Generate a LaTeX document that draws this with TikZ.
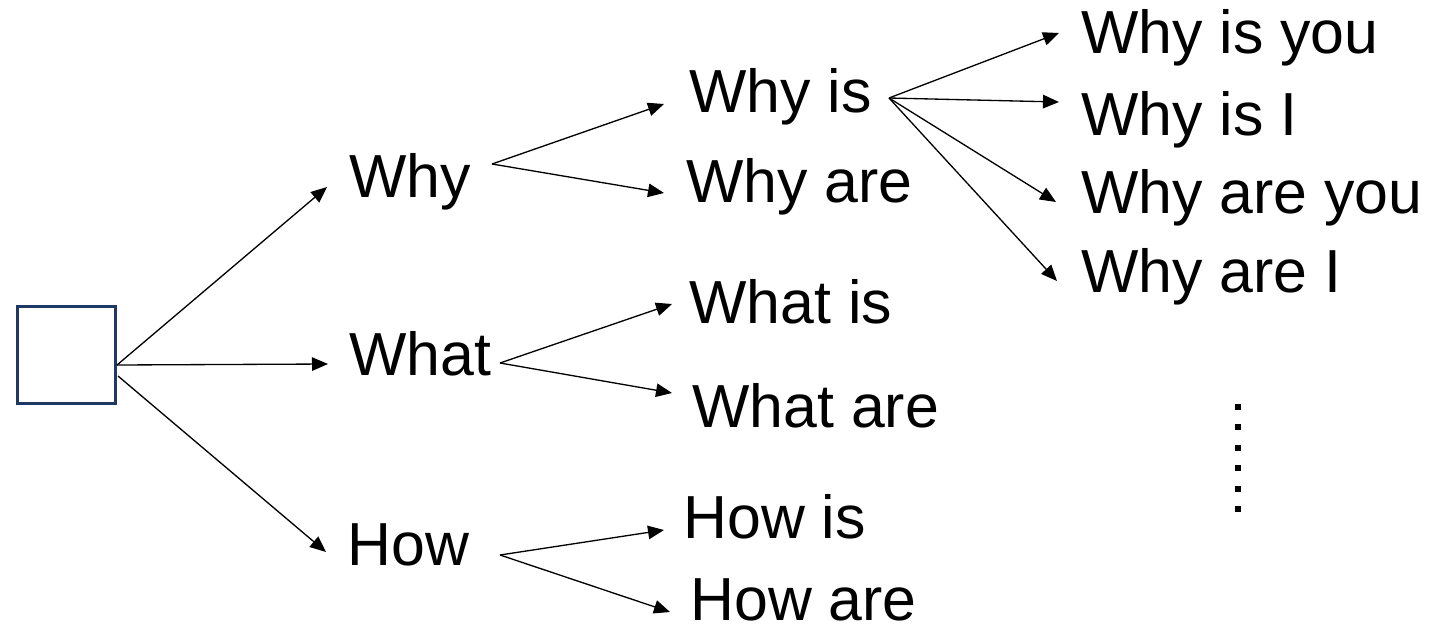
\documentclass[tikz,border=0pt]{standalone}
\usepackage{fontspec}
\setmainfont{Liberation Sans}
\usetikzlibrary{arrows.meta}
\definecolor{boxblue}{RGB}{32,56,100}

\begin{document}
\begin{tikzpicture}[x=0.02cm,y=-0.02cm,
		word/.style={anchor=base west,inner sep=0pt,font=\fontsize{34.6}{40}\selectfont},
		link/.style={line width=0.75pt,-{Triangle[length=0.32cm,width=0.27cm]}}]
	\useasboundingbox (0,0) rectangle (1430,629);

	% empty start box
	\node[draw=boxblue,line width=1.5pt,inner sep=0pt,minimum width=1.97cm,minimum height=1.95cm] (start) at (66.5,355) {};

	% first words
	\node[word] (why) at (349,197) {Why};
	\node[word] (what) at (349,375) {What};
	\node[word] (how) at (347,565) {How};

	% second words
	\node[word] (whyis) at (689,112) {Why is};
	\node[word] (whyare) at (686,202) {Why are};
	\node[word] (whatis) at (689,323) {What is};
	\node[word] (whatare) at (692,427) {What are};
	\node[word] (howis) at (683,538) {How is};
	\node[word] (howare) at (690,620) {How are};

	% third words
	\node[word] (whyisyou) at (1081,53) {Why is you};
	\node[word] (whyisi) at (1081,135) {Why is I};
	\node[word] (whyareyou) at (1081,213) {Why are you};
	\node[word] (whyarei) at (1081,292) {Why are I};

	% where the arrows leave and arrive
	\coordinate (start-out) at (117,365);
	\coordinate (start-low) at (118,376);
	\coordinate (why-out) at (492,164);
	\coordinate (what-out) at (500,363);
	\coordinate (how-out) at (500,555);
	\coordinate (whyis-out) at (889,98);
	\coordinate (why-in) at (327,187);
	\coordinate (what-in) at (328,364);
	\coordinate (how-in) at (326,552);
	\coordinate (whyis-in) at (664,104);
	\coordinate (whyare-in) at (664,193);
	\coordinate (whatis-in) at (672,304);
	\coordinate (whatare-in) at (672,393);
	\coordinate (howis-in) at (664,530);
	\coordinate (howare-in) at (670,612);
	\coordinate (whyisyou-in) at (1059,33);
	\coordinate (whyisi-in) at (1059,102);
	\coordinate (whyareyou-in) at (1056,202);
	\coordinate (whyarei-in) at (1057,281);

	\draw[link] (start-out)--(why-in);
	\draw[link] (start-out)--(what-in);
	\draw[link] (start-low)--(how-in);

	\draw[link] (why-out)--(whyis-in);
	\draw[link] (why-out)--(whyare-in);
	\draw[link] (what-out)--(whatis-in);
	\draw[link] (what-out)--(whatare-in);
	\draw[link] (how-out)--(howis-in);
	\draw[link] (how-out)--(howare-in);

	\draw[link] (whyis-out)--(whyisyou-in);
	\draw[link] (whyis-out)--(whyisi-in);
	\draw[link] (whyis-out)--(whyareyou-in);
	\draw[link] (whyis-out)--(whyarei-in);

	% more below
	\foreach \k in {0,...,5}{
		\fill (1235,404+20.4*\k) rectangle ++(6,6);
	}
\end{tikzpicture}
\end{document}
